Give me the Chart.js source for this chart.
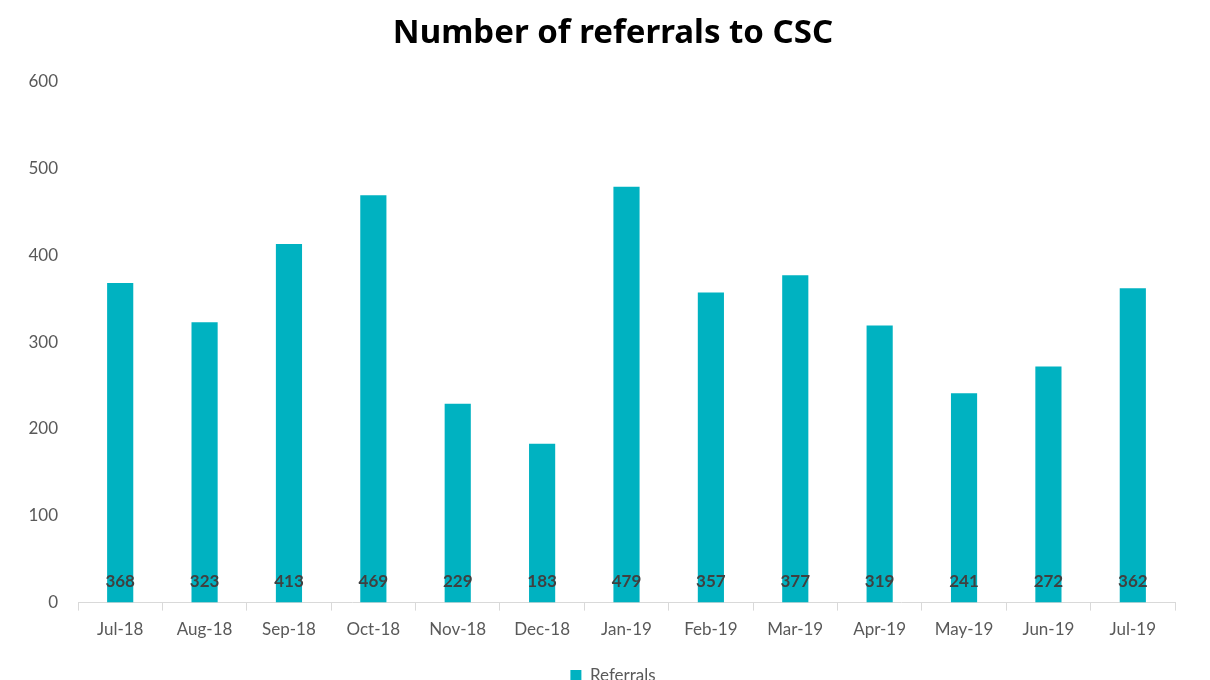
<!DOCTYPE html>
<html>
<head>
<meta charset="utf-8">
<script src="https://cdn.jsdelivr.net/npm/chart.js@4.4.1/dist/chart.umd.min.js"></script>
<style>
  html, body { margin: 0; padding: 0; background: #fff; overflow: hidden; }
  #wrap { width: 1210px; height: 700px; }
</style>
</head>
<body>
<div id="wrap"><canvas id="chart"></canvas></div>
<script>
// Daten
const months = ['Jul-18', 'Aug-18', 'Sep-18', 'Oct-18', 'Nov-18', 'Dec-18', 'Jan-19', 'Feb-19', 'Mar-19', 'Apr-19', 'May-19', 'Jun-19', 'Jul-19'];
const referrals = [368, 323, 413, 469, 229, 183, 479, 357, 377, 319, 241, 272, 362];
const yTicks = [0, 100, 200, 300, 400, 500, 600];

const tickFont = { family: 'Lato, "Open Sans", sans-serif', size: 17 };

// Werte unten in den Balken schreiben
const bottomLabels = {
    id: 'bottomLabels',
    afterDatasetsDraw(chart) {
        const ctx = chart.ctx;
        const meta = chart.getDatasetMeta(0);
        const y0 = chart.scales.y.getPixelForValue(0);
        ctx.save();
        ctx.font = 'bold 17px Lato, "Open Sans", sans-serif';
        ctx.fillStyle = '#404040';
        ctx.textAlign = 'center';
        ctx.textBaseline = 'middle';
        meta.data.forEach((bar, i) => {
            ctx.fillText(String(referrals[i]), bar.x, y0 - 21);
        });
        ctx.restore();
    }
};

const config = {
    type: 'bar',
    data: {
        labels: months,
        datasets: [{
            label: 'Referrals',
            data: referrals,
            backgroundColor: '#00B2C1',
            borderWidth: 0,
            barPercentage: 0.31,
            categoryPercentage: 1.0
        }]
    },
    options: {
        responsive: true,
        maintainAspectRatio: false,
        animation: false,
        layout: { padding: { left: 27, right: 11, top: 0, bottom: 6 } },
        scales: {
            x: {
                grid: { display: true, drawOnChartArea: false, drawTicks: true, tickLength: 8, color: '#d9d9d9', offset: true },
                border: { display: true, color: '#d9d9d9', width: 1 },
                ticks: { color: '#595959', font: tickFont, padding: 9, maxRotation: 0 }
            },
            y: {
                min: 0,
                max: 600,
                afterBuildTicks(axis) { axis.ticks = yTicks.map(v => ({ value: v })); },
                afterFit(axis) { axis.width = 51; },
                grid: { display: false, drawTicks: false },
                border: { display: false },
                ticks: { color: '#595959', font: tickFont, padding: 20 }
            },
            // leere Achse rechts, nur als Abstand
            yRight: {
                position: 'right',
                afterFit(axis) { axis.width = 24; },
                grid: { display: false, drawTicks: false },
                border: { display: false },
                ticks: { display: false }
            }
        },
        plugins: {
            title: {
                display: true,
                text: 'Number of referrals to CSC',
                color: '#000',
                font: { family: '"Noto Sans", "Open Sans", sans-serif', size: 33, weight: 'bold' },
                padding: { top: 14, bottom: 28 }
            },
            legend: {
                position: 'bottom',
                labels: {
                    color: '#595959',
                    font: tickFont,
                    boxWidth: 11,
                    boxHeight: 11,
                    padding: 18
                }
            },
            tooltip: { enabled: false }
        }
    },
    plugins: [bottomLabels]
};

new Chart(document.getElementById('chart'), config);
</script>
</body>
</html>
